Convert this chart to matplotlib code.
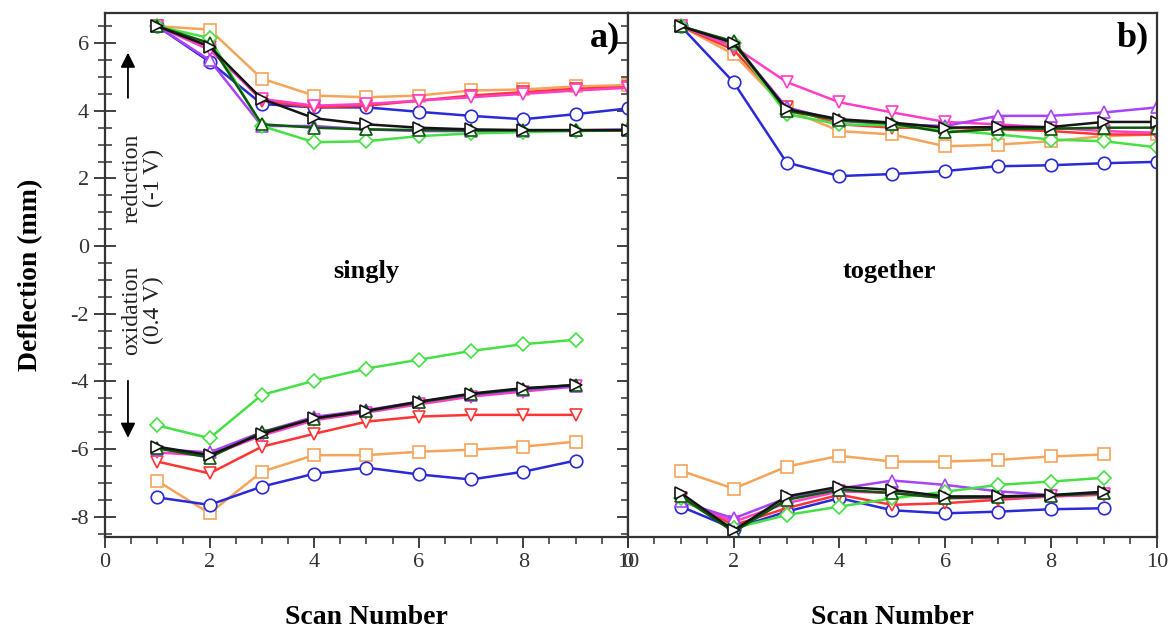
import numpy as np
import matplotlib
matplotlib.use("Agg")
import matplotlib.pyplot as plt
from matplotlib.ticker import MultipleLocator

plt.rcParams['font.family'] = ['Liberation Serif', 'DejaVu Serif']
plt.rcParams['axes.unicode_minus'] = False

# scans 1..10 on top, 1..9 below
scan_top = [1, 2, 3, 4, 5, 6, 7, 8, 9, 10]
scan_bot = [1, 2, 3, 4, 5, 6, 7, 8, 9]

# panel a) singly, reduction (-1 V)
a_red_blue = [6.5, 5.45, 4.2, 4.1, 4.1, 3.97, 3.85, 3.75, 3.9, 4.07]
a_red_orange = [6.5, 6.4, 4.95, 4.45, 4.4, 4.45, 4.6, 4.63, 4.72, 4.76]
a_red_red = [6.5, 5.9, 4.3, 4.1, 4.15, 4.3, 4.45, 4.55, 4.65, 4.7]
a_red_magenta = [6.5, 5.8, 4.35, 4.15, 4.2, 4.3, 4.4, 4.5, 4.6, 4.68]
a_red_violet = [6.5, 5.5, 3.55, 3.55, 3.45, 3.4, 3.4, 3.4, 3.42, 3.45]
a_red_green = [6.5, 6.15, 3.55, 3.07, 3.1, 3.25, 3.33, 3.37, 3.4, 3.42]
a_red_black = [6.5, 5.9, 4.35, 3.78, 3.6, 3.5, 3.45, 3.43, 3.43, 3.43]
a_red_dkgreen = [6.5, 6.0, 3.6, 3.5, 3.45, 3.43, 3.42, 3.42, 3.42, 3.42]

# panel a) singly, oxidation (0.4 V)
a_ox_blue = [-7.43, -7.65, -7.11, -6.73, -6.55, -6.75, -6.9, -6.67, -6.34]
a_ox_orange = [-6.94, -7.9, -6.67, -6.18, -6.18, -6.08, -6.02, -5.93, -5.78]
a_ox_red = [-6.37, -6.72, -5.93, -5.55, -5.19, -5.04, -4.99, -4.99, -4.99]
a_ox_magenta = [-6.1, -6.2, -5.6, -5.15, -4.92, -4.68, -4.45, -4.3, -4.15]
a_ox_violet = [-6.0, -6.1, -5.5, -5.05, -4.85, -4.6, -4.4, -4.25, -4.15]
a_ox_green = [-5.3, -5.68, -4.4, -3.98, -3.62, -3.36, -3.1, -2.9, -2.77]
a_ox_black = [-5.93, -6.18, -5.55, -5.09, -4.87, -4.6, -4.36, -4.2, -4.11]
a_ox_dkgreen = [-5.98, -6.25, -5.5, -5.1, -4.88, -4.62, -4.38, -4.22, -4.1]

# panel b) together, reduction
b_red_blue = [6.5, 4.84, 2.47, 2.07, 2.13, 2.22, 2.36, 2.39, 2.45, 2.49]
b_red_orange = [6.5, 5.67, 4.05, 3.4, 3.3, 2.95, 3.0, 3.1, 3.25, 3.3]
b_red_red = [6.5, 5.8, 4.1, 3.6, 3.5, 3.5, 3.45, 3.4, 3.3, 3.3]
b_red_magenta = [6.5, 5.9, 4.85, 4.25, 3.95, 3.67, 3.6, 3.5, 3.4, 3.35]
b_red_violet = [6.5, 6.0, 4.1, 3.7, 3.6, 3.55, 3.85, 3.85, 3.95, 4.1]
b_red_green = [6.5, 6.0, 3.9, 3.6, 3.57, 3.43, 3.3, 3.15, 3.1, 2.92]
b_red_black = [6.5, 6.0, 4.05, 3.75, 3.65, 3.5, 3.52, 3.52, 3.67, 3.67]
b_red_dkgreen = [6.5, 6.05, 4.0, 3.72, 3.62, 3.36, 3.47, 3.47, 3.5, 3.5]

# panel b) together, oxidation
b_ox_blue = [-7.7, -8.35, -7.85, -7.45, -7.81, -7.9, -7.85, -7.78, -7.75]
b_ox_orange = [-6.64, -7.17, -6.52, -6.2, -6.37, -6.37, -6.32, -6.22, -6.16]
b_ox_red = [-7.45, -8.25, -7.75, -7.35, -7.65, -7.6, -7.5, -7.4, -7.35]
b_ox_magenta = [-7.5, -8.15, -7.6, -7.25, -7.3, -7.45, -7.45, -7.4, -7.33]
b_ox_violet = [-7.55, -8.05, -7.45, -7.17, -6.93, -7.06, -7.25, -7.36, -7.31]
b_ox_green = [-7.46, -8.34, -7.95, -7.7, -7.46, -7.26, -7.06, -6.96, -6.85]
b_ox_black = [-7.3, -8.4, -7.4, -7.11, -7.21, -7.4, -7.4, -7.36, -7.26]
b_ox_dkgreen = [-7.4, -8.45, -7.5, -7.2, -7.3, -7.45, -7.42, -7.38, -7.3]

styles = {
    'orange': ('#f5a45a', 's'),
    'blue': ('#2a2ad6', 'o'),
    'red': ('#ff3535', 'v'),
    'magenta': ('#ff3ec8', 'v'),
    'violet': ('#a844f5', '^'),
    'green': ('#45e045', 'D'),
    'dkgreen': ('#0b5a0b', '^'),
    'black': ('#151515', '>'),
}

panel_a = {
    'orange': (a_red_orange, a_ox_orange), 'blue': (a_red_blue, a_ox_blue),
    'red': (a_red_red, a_ox_red), 'magenta': (a_red_magenta, a_ox_magenta),
    'violet': (a_red_violet, a_ox_violet), 'green': (a_red_green, a_ox_green),
    'dkgreen': (a_red_dkgreen, a_ox_dkgreen), 'black': (a_red_black, a_ox_black),
}
panel_b = {
    'orange': (b_red_orange, b_ox_orange), 'blue': (b_red_blue, b_ox_blue),
    'red': (b_red_red, b_ox_red), 'magenta': (b_red_magenta, b_ox_magenta),
    'violet': (b_red_violet, b_ox_violet), 'green': (b_red_green, b_ox_green),
    'dkgreen': (b_red_dkgreen, b_ox_dkgreen), 'black': (b_red_black, b_ox_black),
}


def draw_panel(ax, data):
    for key, (red, ox) in data.items():
        col, mk = styles[key]
        ms = 7 if mk == 'D' else 9
        for xs, ys in ((scan_top, red), (scan_bot, ox)):
            ax.plot(xs, ys, color=col, lw=1.8, marker=mk, ms=ms,
                    mfc='white', mec=col, mew=1.2)
    ax.set_xlim(0, 10)
    ax.set_ylim(-8.6, 6.9)
    ax.xaxis.set_major_locator(MultipleLocator(2))
    ax.xaxis.set_minor_locator(MultipleLocator(0.5))
    ax.yaxis.set_major_locator(MultipleLocator(2))
    ax.yaxis.set_minor_locator(MultipleLocator(0.5))
    for s in ax.spines.values():
        s.set_color('#333333')
        s.set_linewidth(1.6)
    ax.set_xlabel('Scan Number', fontsize=20, fontweight='bold', labelpad=24)


fig = plt.figure(figsize=(11.7, 6.34), dpi=100)
ax1 = fig.add_axes([0.0897, 0.153, 0.447, 0.827])
ax2 = fig.add_axes([0.5367, 0.153, 0.452, 0.827])

draw_panel(ax1, panel_a)
draw_panel(ax2, panel_b)

for ax in (ax1, ax2):
    ax.tick_params(axis='both', which='major', direction='out', length=8, width=1.3,
                   labelsize=16, colors='#333333', labelcolor='#333333')
    ax.tick_params(axis='both', which='minor', direction='out', length=5, width=1.1,
                   colors='#333333')
    ax.tick_params(axis='x', which='both', top=False)

ax1.tick_params(axis='y', which='both', right=True, labelright=False)
ax1.tick_params(axis='y', which='major', direction='inout', length=16)
ax1.tick_params(axis='y', which='minor', direction='inout', length=10)
ax2.tick_params(axis='y', which='both', left=False, labelleft=False, right=False)

ax1.set_ylabel('Deflection (mm)', fontsize=20, fontweight='bold', labelpad=20)

ax1.text(9.85, 6.15, 'a)', fontsize=26, fontweight='bold', ha='right', va='center')
ax2.text(9.85, 6.15, 'b)', fontsize=26, fontweight='bold', ha='right', va='center')
ax1.text(5.0, -0.75, 'singly', fontsize=19, fontweight='bold', ha='center', va='center')
ax2.text(4.95, -0.75, 'together', fontsize=19, fontweight='bold', ha='center', va='center')

ax1.text(0.72, 2.0, 'reduction\n(-1 V)', rotation=90, fontsize=17, ha='center',
         va='center', linespacing=1.0, color='#222222')
ax1.text(0.72, -1.9, 'oxidation\n(0.4 V)', rotation=90, fontsize=17, ha='center',
         va='center', linespacing=1.0, color='#222222')
ax1.annotate('', xy=(0.44, 5.8), xytext=(0.44, 4.3),
             arrowprops=dict(arrowstyle='-|>', color='black', lw=1.3,
                             mutation_scale=22))
ax1.annotate('', xy=(0.44, -5.75), xytext=(0.44, -3.9),
             arrowprops=dict(arrowstyle='-|>', color='black', lw=1.3,
                             mutation_scale=22))

fig.savefig('out.png', dpi=100)
